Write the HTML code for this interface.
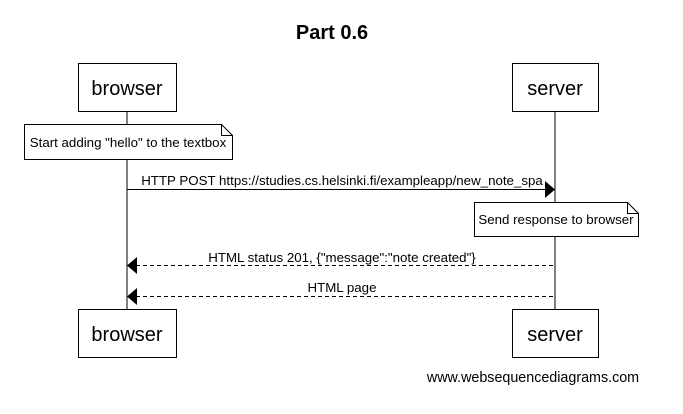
<!DOCTYPE html>
<html><head><style>body{margin:0;background:#fff}</style></head><body>
<svg width="683" height="409" xmlns="http://www.w3.org/2000/svg" font-family="Liberation Sans, sans-serif">
<rect width="683" height="409" fill="#fff"/>
<text x="332" y="39" font-size="20" font-weight="bold" text-anchor="middle">Part 0.6</text>
<line x1="127" y1="112" x2="127" y2="309" stroke="#000"/>
<line x1="555" y1="112" x2="555" y2="309" stroke="#000"/>
<g fill="#fff" stroke="#000">
<rect x="78.5" y="63.5" width="98" height="48"/>
<rect x="512.5" y="63.5" width="86" height="48"/>
<rect x="78.5" y="309.5" width="98" height="48"/>
<rect x="512.5" y="309.5" width="86" height="48"/>
<path d="M24.5 124.5 H221.5 L232.5 135.5 V159.5 H24.5 Z M221.5 124.5 V135.5 H232.5"/>
<path d="M474.5 202.5 H627.5 L638.5 213.5 V236.5 H474.5 Z M627.5 202.5 V213.5 H638.5"/>
</g>
<g font-size="20" text-anchor="middle">
<text x="127" y="95">browser</text><text x="555" y="95">server</text>
<text x="127" y="341">browser</text><text x="555" y="341">server</text>
</g>
<g font-size="13.3" text-anchor="middle">
<text x="128" y="147">Start adding "hello" to the textbox</text>
<text x="556" y="224">Send response to browser</text>
<text x="342" y="185">HTTP POST https://studies.cs.helsinki.fi/exampleapp/new_note_spa</text>
<text x="342" y="262">HTML status 201, {"message":"note created"}</text>
<text x="342" y="292">HTML page</text>
<text x="533" y="382" font-size="14.3">www.websequencediagrams.com</text>
</g>
<line x1="127" y1="189.5" x2="546" y2="189.5" stroke="#000"/>
<path d="M545 181 L555 189.5 L545 198 Z"/>
<line x1="136" y1="265.5" x2="555" y2="265.5" stroke="#000" stroke-dasharray="4,3"/>
<path d="M137 257 L127 265.5 L137 274 Z"/>
<line x1="136" y1="296.5" x2="555" y2="296.5" stroke="#000" stroke-dasharray="4,3"/>
<path d="M137 288 L127 296.5 L137 305 Z"/>
</svg>
</body></html>
